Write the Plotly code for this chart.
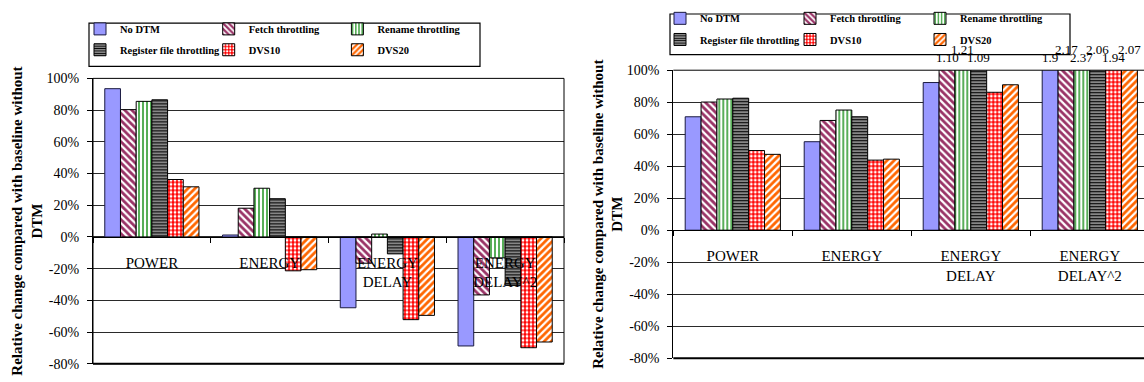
import plotly.graph_objects as go

# ---- data -------------------------------------------------------------
categories = ["POWER", "ENERGY", "ENERGY<br>DELAY", "ENERGY<br>DELAY^2"]
series_names = ["No DTM", "Fetch throttling", "Rename throttling",
                "Register file throttling", "DVS10", "DVS20"]

# relative change (%) compared with baseline without DTM — first chart
left_no_dtm = [93.5, 1.2, -44.7, -68.8]
left_fetch = [80.3, 18.1, -16.6, -36.6]
left_rename = [85.5, 30.7, 1.8, -13.2]
left_register = [86.5, 24.1, -10.7, -30.6]
left_dvs10 = [36.2, -21.4, -52.2, -69.9]
left_dvs20 = [31.6, -20.7, -49.5, -66.3]

# second chart (several bars run past the top of the axis)
right_no_dtm = [70.9, 55.3, 92.3, 190]
right_fetch = [80.1, 68.6, 110, 217]
right_rename = [82.0, 75.1, 121, 237]
right_register = [82.5, 70.9, 109, 206]
right_dvs10 = [49.8, 43.8, 86.2, 194]
right_dvs20 = [47.4, 44.4, 90.9, 207]

# value labels shown above the clipped bars (ratio to baseline)
right_top_labels = {
    "ENERGY<br>DELAY": ["", "1.10", "1.21", "1.09", "", ""],
    "ENERGY<br>DELAY^2": ["1.9", "2.17", "2.37", "2.06", "1.94", "2.07"],
}

y_tick_vals = [-80, -60, -40, -20, 0, 20, 40, 60, 80, 100]
y_tick_text = ["-80%", "-60%", "-40%", "-20%", "0%", "20%", "40%", "60%", "80%", "100%"]
y_title = "Relative change compared with baseline without<br>DTM"

left_series = [left_no_dtm, left_fetch, left_rename, left_register, left_dvs10, left_dvs20]
right_series = [right_no_dtm, right_fetch, right_rename, right_register, right_dvs10, right_dvs20]

# ---- styling ----------------------------------------------------------
W, H = 1144, 382
SERIF = "Liberation Serif, Times New Roman, Times, serif"
BARGAP = 0.2
OUTLINE = dict(color="#000000", width=1)

styles = [
    dict(color="#9999FF", line=dict(color="#1a1a40", width=1)),
    dict(color="white", line=OUTLINE,
         pattern=dict(shape="\\", fgcolor="#993366", bgcolor="white", size=5,
                      solidity=0.55, fgopacity=1)),
    dict(color="white", line=OUTLINE,
         pattern=dict(shape="|", fgcolor="#2E9A2E", bgcolor="white", size=4,
                      solidity=0.4, fgopacity=1)),
    dict(color="white", line=OUTLINE,
         pattern=dict(shape="-", fgcolor="#000000", bgcolor="white", size=3,
                      solidity=0.65, fgopacity=1)),
    dict(color="#FF0000", line=OUTLINE,
         pattern=dict(shape=".", fgcolor="white", bgcolor="#FF0000", size=4,
                      solidity=0.4, fgopacity=1)),
    dict(color="white", line=OUTLINE,
         pattern=dict(shape="/", fgcolor="#FF6600", bgcolor="white", size=5,
                      solidity=0.55, fgopacity=1)),
]

# plot-area geometry (pixels)
L_X0, L_X1, L_YTOP, L_YBOT = 93.0, 564.0, 74.3, 371.3
R_X0, R_YTOP, R_YBOT = 673.3, 65.8, 365.5
R_CAT_PX = 119.0
Y_RANGE = [-80, 100]

left_xdom = [L_X0 / W, L_X1 / W]
left_ydom = [1 - L_YBOT / H, 1 - L_YTOP / H]
right_xdom = [R_X0 / W, 1.0]
right_ydom = [1 - R_YBOT / H, 1 - R_YTOP / H]
right_xrange = [-0.5, -0.5 + (W - R_X0) / R_CAT_PX]


def zero_position(ydom):
    frac = (0 - Y_RANGE[0]) / (Y_RANGE[1] - Y_RANGE[0])
    return ydom[0] + frac * (ydom[1] - ydom[0])


fig = go.Figure()

legend_rows = [["legend", "legend2"], ["legend3", "legend4"]]
for side, (series, xa, ya) in enumerate([(left_series, "x", "y"), (right_series, "x2", "y2")]):
    for i, (name, vals) in enumerate(zip(series_names, series)):
        fig.add_trace(go.Bar(
            x=categories, y=vals, name=name, xaxis=xa, yaxis=ya,
            marker=styles[i], legend=legend_rows[side][0 if i < 3 else 1],
            hovertemplate="%{y:.1f}%<extra>" + name + "</extra>",
        ))

# value labels above the clipped bars, alternating heights as they crowd
bar_px = R_CAT_PX * (1 - BARGAP) / len(series_names)
for cat, labels in right_top_labels.items():
    k = 0
    for i, txt in enumerate(labels):
        if not txt:
            continue
        fig.add_annotation(
            x=cat, y=Y_RANGE[1], xref="x2", yref="y2", text=txt, showarrow=False,
            xanchor="center", yanchor="bottom", xshift=(i - 2.5) * bar_px,
            yshift=3 if k % 2 == 0 else 11,
            font=dict(family=SERIF, size=13, color="black"),
        )
        k += 1

tick_font = dict(family=SERIF, size=14, color="black")
cat_font = dict(family=SERIF, size=15, color="black")
title_font = dict(family=SERIF, size=15, color="black", weight="bold")


def yaxis_cfg(dom):
    return dict(
        domain=dom, range=Y_RANGE, tickmode="array", tickvals=y_tick_vals, ticktext=y_tick_text,
        ticks="outside", ticklen=5, tickcolor="black", showline=True, linecolor="black",
        linewidth=1, showgrid=True, gridcolor="#2a2a2a", gridwidth=1, zeroline=False,
        tickfont=tick_font, ticklabelstandoff=5, fixedrange=True,
        title=dict(text=y_title, font=title_font, standoff=0),
    )


def xaxis_cfg(dom, ydom, rng):
    return dict(
        domain=dom, type="category", categoryorder="array", categoryarray=categories,
        range=rng, anchor="free", position=zero_position(ydom), tickson="boundaries",
        ticks="outside", ticklen=5, tickcolor="black", showline=True, linecolor="black",
        linewidth=1, showgrid=False, zeroline=False, tickfont=cat_font,
        ticklabelstandoff=12, fixedrange=True,
    )


def cross_tick_cfg(over, ydom, rng):
    # inward half of the cross tick marks at the category boundaries
    return dict(
        overlaying=over, type="linear", range=rng, anchor="free", position=zero_position(ydom),
        tickmode="array", tickvals=[-0.5, 0.5, 1.5, 2.5, 3.5], ticks="inside", ticklen=5,
        tickcolor="black", showticklabels=False, showline=False, showgrid=False,
        zeroline=False, fixedrange=True,
    )


legend_font = dict(family=SERIF, size=10.5, color="black", weight="bold")


def legend_cfg(x_px, y_px, spacing):
    return dict(
        orientation="h", x=x_px / W, xanchor="left", y=1 - y_px / H, yanchor="middle",
        bgcolor="rgba(0,0,0,0)", borderwidth=0, font=legend_font,
        entrywidth=spacing - 45, entrywidthmode="pixels", tracegroupgap=0,
    )


fig.update_layout(
    width=W, height=H, margin=dict(l=0, r=0, t=0, b=0),
    paper_bgcolor="white", plot_bgcolor="white",
    barmode="group", bargap=BARGAP, bargroupgap=0,
    showlegend=True,
    xaxis=xaxis_cfg(left_xdom, left_ydom, [-0.5, 3.5]),
    yaxis=dict(yaxis_cfg(left_ydom), anchor="x"),
    xaxis2=xaxis_cfg(right_xdom, right_ydom, right_xrange),
    yaxis2=dict(yaxis_cfg(right_ydom), anchor="x2"),
    xaxis3=cross_tick_cfg("x", left_ydom, [-0.5, 3.5]),
    xaxis4=cross_tick_cfg("x2", right_ydom, right_xrange),
    legend=legend_cfg(80, 22.8, 128.7),
    legend2=legend_cfg(80, 44.5, 128.7),
    legend3=legend_cfg(660, 11.8, 130.0),
    legend4=legend_cfg(660, 33.8, 130.0),
    shapes=[
        # plot-area frames
        dict(type="rect", xref="x domain", yref="y domain", x0=0, x1=1, y0=0, y1=1,
             line=dict(color="black", width=1), layer="above"),
        dict(type="line", xref="x domain", yref="y domain", x0=0, x1=1, y0=0, y1=0,
             line=dict(color="black", width=2), layer="above"),
        dict(type="line", xref="x2 domain", yref="y2 domain", x0=0, x1=1, y0=1, y1=1,
             line=dict(color="black", width=1), layer="above"),
        dict(type="line", xref="x2 domain", yref="y2 domain", x0=0, x1=1, y0=0, y1=0,
             line=dict(color="black", width=2), layer="above"),
        # legend frames
        dict(type="rect", xref="paper", yref="paper", x0=89 / W, x1=480 / W,
             y0=1 - 61.7 / H, y1=1 - 16.7 / H, line=dict(color="black", width=1.2),
             fillcolor="white", layer="below"),
        dict(type="rect", xref="paper", yref="paper", x0=670 / W, x1=1070 / W,
             y0=1 - 49.5 / H, y1=1 - 7.3 / H, line=dict(color="black", width=1.2),
             fillcolor="white", layer="below"),
    ],
)

fig.write_html("out.html")
